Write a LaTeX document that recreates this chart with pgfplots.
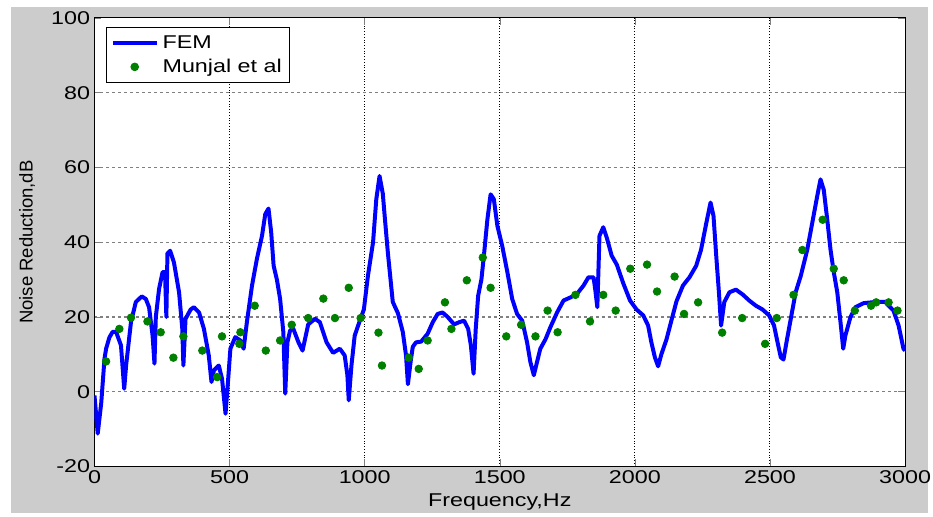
\documentclass[border=0pt]{standalone}
\usepackage{fontspec}
\setmainfont{Liberation Sans}[FakeStretch=1.26]
\newfontfamily\plainfont{Liberation Sans}
\usepackage{pgfplots}
\pgfplotsset{compat=1.18}
\definecolor{figbg}{RGB}{204,204,204}
\definecolor{femblue}{RGB}{0,0,255}
\definecolor{mgreen}{RGB}{0,128,0}
\pgfplotsset{
  femleg/.style={legend image code/.code={\draw[##1] (0pt,0pt) -- (22pt,0pt);}},
  dotleg/.style={legend image code/.code={\draw[##1] plot coordinates {(11pt,0pt)};}},
}

\begin{document}
\fontsize{9.3}{11}\selectfont
\begin{tikzpicture}
% figure background (px -> pt at 0.5)
\fill[white] (-47.5pt,-23.5pt) rectangle (419pt,234.5pt);
\fill[figbg] (-42pt,-23.5pt) rectangle (419pt,231pt);
\begin{axis}[
  scale only axis, width=407.5pt, height=225.5pt,
  at={(0,0)}, anchor=south west,
  axis background/.style={fill=white},
  xmin=0, xmax=3000, ymin=-20, ymax=100,
  xtick={0,500,...,3000}, ytick={-20,0,...,100},
  tick pos=both, tick align=inside, major tick length=3.5pt,
  /pgf/number format/assume math mode=true,
  /pgf/number format/1000 sep={},
  ticklabel style={font=\fontsize{9.3}{11}\selectfont},
  yticklabel style={inner sep=1pt, xshift=-1pt},
  xticklabel style={inner sep=1pt, yshift=-1pt},
  grid=major,
  x grid style={black, densely dotted, line width=0.5pt},
  y grid style={gray, dash pattern=on 1.5pt off 1.5pt, line width=0.6pt},
  axis line style={black, line width=0.5pt},
  xlabel={Frequency,Hz},
  ylabel={\plainfont Noise Reduction,dB},
  xlabel style={font=\fontsize{9.3}{11}\selectfont, at={(axis description cs:0.5,-0.08)}, anchor=center},
  ylabel style={font=\fontsize{9.3}{11}\selectfont, at={(axis description cs:-0.083,0.5)}, anchor=center},
  legend style={at={(rel axis cs:0.0147,0.98)}, anchor=north west,
    draw=black, line width=0.5pt, fill=white, inner xsep=2pt, inner ysep=2pt,
    font=\fontsize{9.3}{11}\selectfont, row sep=0pt,
    cells={anchor=west}},
  legend cell align=left,
]
\addplot[femblue, line width=2pt, line join=round, femleg]
coordinates {
(0,-1) (12,-11.2) (25,-3) (37,8.8) (43,11.5) (55,14.5) (67,16) (80,16)
(98,12.4) (110,0.8) (117,7) (135,18.6) (153,24) (175,25.5) (190,24.8)
(202,22.6) (215,15) (222,7.5) (227,20) (239,27.5) (252,32) (261,32)
(266,20) (270,37) (280,37.7) (294,34.6) (313,26.6) (325,16.8) (329,7)
(337,19.5) (356,22) (368,22.6) (387,21.2) (405,16.8) (423,9.7) (433,2.6)
(442,5.7) (460,7) (472,3.5) (485,-5.9) (494,2.6) (503,11.5) (521,14.6)
(540,13.7) (552,11.5) (564,18.6) (583,28.4) (601,35.5) (620,41.7)
(632,47.5) (644,49) (654,42.6) (663,33.7) (675,30) (687,24.8) (699,15.9)
(706,-0.5) (714,13.2) (724,16.4) (736,16.8) (755,13.2) (770,11) (791,18)
(816,19.5) (834,18.6) (859,13.2) (883,10.4) (908,11.5) (926,9.7) (936,4.4)
(941,-2.3) (951,7) (963,15) (982,19) (997,22) (1012,31) (1031,40)
(1043,51.5) (1055,57.7) (1067,53) (1074,47) (1086,37) (1104,24) (1123,21)
(1141,16) (1153,9.7) (1160,2) (1170,8) (1178,12) (1190,13.2) (1209,13.4)
(1233,15.5) (1252,18.6) (1270,20.8) (1288,21.2) (1307,20) (1331,18)
(1350,18.6) (1368,19) (1383,16.8) (1393,12.4) (1403,4.8) (1411,16.8)
(1420,25.7) (1432,30) (1442,37) (1454,46) (1466,52.8) (1478,51.5)
(1491,44.4) (1509,39) (1528,32) (1546,24.8) (1564,20.8) (1583,19)
(1601,13.2) (1613,8) (1626,4.4) (1638,8) (1650,11.5) (1669,14) (1687,17.2)
(1712,21.2) (1736,24.4) (1761,25.2) (1785,26.1) (1810,28.4) (1828,30.6)
(1847,30.6) (1853,27.5) (1861,22.6) (1869,41.7) (1883,44) (1896,41.2)
(1914,36.4) (1933,34) (1957,29) (1982,24.4) (2006,22) (2031,20.4)
(2049,17.7) (2061,13.2) (2074,9.2) (2086,6.8) (2098,10) (2117,14)
(2135,19) (2154,24.2) (2178,28.4) (2202,30.6) (2227,33.7) (2245,38)
(2264,45) (2280,50.6) (2291,47) (2301,36.4) (2311,26.6) (2319,17.7)
(2331,24) (2350,26.6) (2374,27.3) (2399,26) (2423,24.4) (2448,23)
(2472,22) (2497,20.4) (2515,17.7) (2528,13.2) (2540,9.2) (2550,8.6)
(2561,13.2) (2577,19.5) (2595,26.6) (2614,31) (2638,38) (2656,45)
(2675,52.4) (2687,56.8) (2699,54) (2712,46) (2724,38) (2736,32)
(2749,26.6) (2761,18.6) (2771,11.5) (2779,15) (2798,20) (2816,22.6)
(2847,23.7) (2890,24) (2926,24) (2957,21.7) (2976,17.7) (2994,11.5)
(3000,11)
};
\addlegendentry{FEM}
\addplot[only marks, mark=*, mark size=1.9pt, mgreen, mark options={fill=mgreen, draw=mgreen}, dotleg]
coordinates {
(43,8.1) (92,16.8) (135,19.8) (196,18.8) (245,15.9) (292,9.1) (329,14.8)
(399,11) (454,3.9) (472,14.8) (536,12.8) (540,15.9) (593,23) (634,11)
(687,13.7) (730,17.9) (791,19.7) (847,24.9) (890,19.7) (941,27.8)
(985,19.7) (1051,15.8) (1064,7) (1163,9.1) (1200,6.1) (1233,13.7)
(1297,23.9) (1321,16.8) (1378,29.8) (1437,35.9) (1466,27.8) (1524,14.8)
(1579,17.9) (1632,14.8) (1677,21.7) (1714,15.9) (1780,25.9) (1834,18.8)
(1883,25.9) (1929,21.7) (1983,32.9) (2045,34) (2082,26.8) (2147,30.8)
(2182,20.8) (2234,23.9) (2323,15.8) (2397,19.7) (2482,12.8) (2525,19.7)
(2587,25.9) (2620,37.9) (2695,46) (2736,32.9) (2773,29.8) (2814,21.7)
(2874,23) (2893,23.9) (2939,23.9) (2972,21.7)
};
\addlegendentry{Munjal et al}
\end{axis}
\end{tikzpicture}
\end{document}
